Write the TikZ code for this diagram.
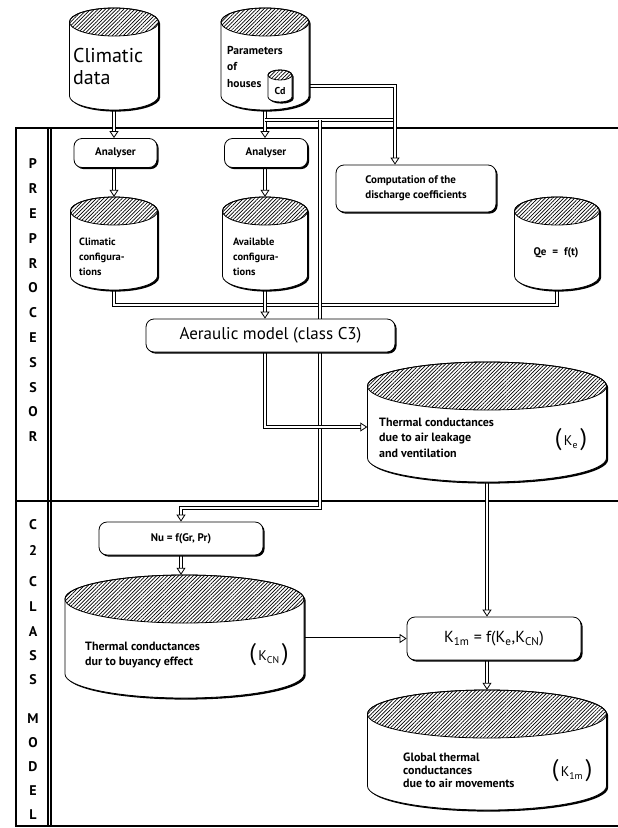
\documentclass[tikz,border=0pt]{standalone}
\usepackage{fontspec}
\setmainfont{PT Sans}
\usepackage{tikz}
\usetikzlibrary{arrows.meta}
\usetikzlibrary{shadows, patterns.meta, backgrounds}
\newcommand{\bigpar}[1]{{\fontsize{24}{24}\selectfont #1}}
\tikzset{
proc box/.style = { rectangle, draw = black, fill = white, line width = 0.8pt, rounded corners = 8pt, inner sep = 0pt, font = \bfseries\fontsize{11}{15}\selectfont, drop shadow = {shadow xshift = 1.6pt, shadow yshift = -1.6pt, opacity = 1, fill = black} },
drum text/.style = { anchor = west, align = left, inner sep = 0pt, font = \bfseries\fontsize{11}{15}\selectfont },
k label/.style = { inner sep = 0pt, font = \fontsize{14}{14}\selectfont },
side letter/.style = { inner sep = 0pt, font = \bfseries\fontsize{14}{14}\selectfont },
frame/.style = { line width = 1.3pt },
link/.style = { double = white, double distance = 2pt, line width = 0.9pt },
link arrow/.style = { link, -{Triangle[open, length = 7pt, width = 9pt, line width = 0.8pt]} },
}
\tikzset{
pics/drum/.style args={#1, #2, #3}{
        code = {
        \fill[black, xshift = 1.6, yshift = -1.6] ({-#1/2}, {#2/2-#3}) -- ({-#1/2}, {-#2/2+#3}) arc[start angle = 180, end angle = 360, x radius = #1/2, y radius = #3] -- ({#1/2}, {#2/2-#3}) arc[start angle = 0, end angle = 180, x radius = #1/2, y radius = #3] -- cycle;
        \filldraw[fill = white, line width = 0.8pt] ({-#1/2}, {#2/2-#3}) -- ({-#1/2}, {-#2/2+#3}) arc[start angle = 180, end angle = 360, x radius = #1/2, y radius = #3] -- ({#1/2}, {#2/2-#3}) arc[start angle = 0, end angle = 180, x radius = #1/2, y radius = #3] -- cycle;
        \draw[line width = 0.8pt, pattern = {Lines[angle = 45, distance = 2.6pt, line width = 0.7pt]}] (0, {#2/2-#3}) ellipse [x radius = #1/2, y radius = #3];
        \node[inner sep = 0pt, minimum width = #1, minimum height = #2] (-body) at (0, 0) {};
        }
    }
}

\begin{document}
\begin{tikzpicture}[x = 1pt, y = 1pt]
    \useasboundingbox (0, 0) rectangle (618, -828);
    % frame
    \begin{scope}[on background layer]
    \draw[frame] (16, -128) -- (618, -128);
    \draw[frame] (48, -501) -- (618, -501);
    \draw[frame] (16, -826) -- (618, -826);
    \draw[frame] (16, -128) rectangle (48, -501);
    \draw[frame] (16, -501) rectangle (48, -826);
    \draw[frame] (51, -128) -- (51, -826);
    \end{scope}
    \foreach \l [count = \i] in {P, R, E, P, R, O, C, E, S, S, O, R}
        \node[side letter] (pre\i) at (33, {-164-(\i-1)*24.8}) {\l};
    \foreach \l/\y [count = \i] in {C/525, 2/550, C/582, L/607, A/632, S/656, S/680, M/719, O/743, D/767, E/791, L/815}
        \node[side letter] (mod\i) at (33, -\y) {\l};
    % data bases
    \pic (clim) at (114, -59) {drum = {89, 102, 14}};
    \pic (param) at (265, -59) {drum = {88, 102, 14}};
    \pic (cd) at (280, -86) {drum = {24, 32, 5}};
    \pic (climcfg) at (114, -243.5) {drum = {87, 93, 14}};
    \pic (availcfg) at (265, -243.5) {drum = {85, 93, 14}};
    \pic (qe) at (557, -243.5) {drum = {85, 93, 14}};
    \pic (ke) at (487, -422) {drum = {239, 120, 24}};
    \pic (cn) at (184.5, -636.5) {drum = {239, 123, 24}};
    \pic (glob) at (487, -750) {drum = {239, 120, 24}};
    \node[drum text, font = \fontsize{20}{22}\selectfont] (climtxt) at (73, -66) {Climatic\\data};
    \node[drum text, font = \bfseries\fontsize{11.5}{16.5}\selectfont] (paramtxt) at (227, -66.5) {Parameters\\of\\houses};
    \node[inner sep = 0pt, font = \bfseries\fontsize{10}{10}\selectfont] (cdtxt) at (280, -91) {Cd};
    \node[drum text, font = \bfseries\fontsize{10.5}{15}\selectfont] (climcfgtxt) at (79, -257) {Climatic\\configura-\\tions};
    \node[drum text, font = \bfseries\fontsize{10.5}{15}\selectfont] (availcfgtxt) at (233, -257) {Available\\configura-\\tions};
    \node[inner sep = 0pt, font = \bfseries\fontsize{11}{11}\selectfont] (qetxt) at (556, -253) {Qe \;=\; f(t)};
    \node[drum text, font = \bfseries\fontsize{12}{15.5}\selectfont] (ketxt) at (379, -437.5) {Thermal conductances\\due to air leakage\\and ventilation};
    \node[k label] (kelbl) at (571, -440) {\bigpar{(}\,K\textsubscript{e}\,\bigpar{)}};
    \node[drum text, font = \bfseries\fontsize{12}{15}\selectfont] (cntxt) at (85, -655.5) {Thermal conductances\\dur to buyancy effect};
    \node[k label] (cnlbl) at (269, -655) {\bigpar{(}\,K\textsubscript{CN}\,\bigpar{)}};
    \node[drum text, font = \bfseries\fontsize{12}{13}\selectfont] (globtxt) at (403, -770) {Global thermal\\conductances\\due to air movements};
    \node[k label] (globlbl) at (572, -771) {\bigpar{(}\,K\textsubscript{1m}\,\bigpar{)}};
    % processes
    \node[proc box, minimum width = 83, minimum height = 29] (ana1) at (115.5, -153) {Analyser};
    \node[proc box, minimum width = 83, minimum height = 29] (ana2) at (266, -153) {Analyser};
    \node[proc box, minimum width = 160, minimum height = 47, align = left] (comp) at (416, -188.5) {Computation of the\\discharge coefficients};
    \node[proc box, minimum width = 249, minimum height = 33, font = \fontsize{17}{17}\selectfont] (aer) at (270.5, -335.5) {Aeraulic model (class C3)};
    \node[proc box, minimum width = 164, minimum height = 33] (nu) at (181, -538.5) {Nu = f(Gr, Pr)};
    \node[proc box, minimum width = 174, minimum height = 43, font = \fontsize{16}{16}\selectfont] (kim) at (494, -638.5) {K\textsubscript{1m} = f(K\textsubscript{e},K\textsubscript{CN})};
    % links
    \coordinate (split) at (265, -120);
    \coordinate (splitend) at (395, -120);
    \coordinate (tap) at (320, -120);
    \coordinate (nuturn) at (320, -508);
    \coordinate (merge) at (265, -305);
    \begin{scope}[on background layer]
    \draw[link arrow] (clim-body.south) -- (ana1.north -| clim-body.south);
    \draw[link arrow] (ana1.south -| clim-body.south) -- (climcfg-body.north);
    \draw[link arrow] (param-body.south) -- (ana2.north -| param-body.south);
    \draw[link arrow] (ana2.south -| param-body.south) -- (availcfg-body.north);
    \draw[link] (split) -- (splitend);
    \draw[link arrow] (splitend) -- (comp.north -| splitend);
    \draw[link arrow] (splitend) |- (cd-body.east);
    \draw[link] (climcfg-body.south) |- (merge) -| (qe-body.south);
    \draw[link arrow] (availcfg-body.south) -- (aer.north -| availcfg-body.south);
    \draw[link arrow] (tap) -- (nuturn) -| (nu.north);
    \draw[link arrow] (aer.south -| availcfg-body.south) |- ([yshift = -5]ke-body.west);
    \draw[link arrow] (nu.south) -- (nu.south |- cn-body.north);
    \draw[link arrow] (ke-body.south) -- (kim.north -| ke-body.south);
    \draw[link arrow] (cn-body.east |- kim.west) -- (kim.west);
    \draw[link arrow] (kim.south -| glob-body.north) -- (glob-body.north);
    \end{scope}
\end{tikzpicture}
\end{document}
